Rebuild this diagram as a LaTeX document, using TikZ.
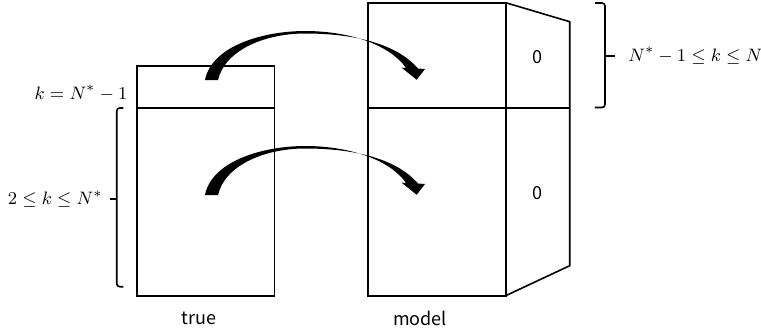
\documentclass[tikz,border=0pt]{standalone}
\usepackage{amsmath,amssymb}
\usepackage{fontspec}
\newfontfamily\jpfont{Noto Sans CJK JP}
\usepackage{tikz}
\usetikzlibrary{positioning,calc}

\begin{document}
\begin{tikzpicture}[
    x=0.5pt, y=-0.5pt,
    cell/.style={rectangle, draw, line width=0.8pt, inner sep=0pt, outer sep=0pt},
    lbl/.style={font=\jpfont\fontsize{9}{11}\selectfont},
    mth/.style={font=\fontsize{9.4}{11}\selectfont, inner sep=0pt},
    bracket/.style={line width=0.8pt, rounded corners=1.5pt}
]
\useasboundingbox (0,0) rectangle (761,333);

% true block
\node[cell, minimum width=68.8pt, minimum height=21.15pt] (truetop) at (205.5,86.85) {};
\node[cell, minimum width=68.8pt, minimum height=93.85pt] (truebot) at (205.5,201.85) {};

% model block with side face
\node[cell, minimum width=68.85pt, minimum height=52.65pt] (modeltop) at (436.85,55.35) {};
\node[cell, minimum width=68.85pt, minimum height=93.85pt] (modelbot) at (436.85,201.85) {};
\coordinate (sidetop) at (569.7,21.7);
\coordinate (sidemid) at (569.7,108);
\coordinate (sidebot) at (569.7,265.7);
\draw[line width=0.8pt] (modeltop.north east) -- (sidetop) -- (sidebot) -- (modelbot.south east);
\draw[line width=0.8pt] (modeltop.south east) -- (sidemid);
\node[lbl] (zerotop) at (537.7,57.3) {0};
\node[lbl] (zerobot) at (537.7,193.3) {0};

\node[lbl] (labeltrue) at (199,318) {true};
\node[lbl] (labelmodel) at (420,318) {model};

% curved arrows
\foreach \c in {truetop,truebot}
  \fill[shift={(\c.center)}] (-0.5,-6.85) .. controls (6.5,-41.85) and (59.5,-55.85) .. (99.5,-55.85)
    .. controls (144.5,-55.85) and (184.5,-41.85) .. (200.5,-18.95) -- (196.2,-19.15) -- (211.2,-7.05)
    -- (219.5,-17.85) -- (212.5,-18.35) .. controls (189.5,-44.85) and (144.5,-53.35) .. (99.5,-53.35)
    .. controls (59.5,-53.35) and (19.5,-36.85) .. (12.5,-6.85) -- cycle;

% brackets and ranges
\coordinate (lefttip) at (110,199);
\draw[bracket] (123.3,108) -- (116.7,108) -- (116.7,286.7) -- (123.3,286.7);
\draw[line width=0.8pt] (116.7,199) -- (lefttip);
\node[mth, left=3.5pt of lefttip] (rangelow) {$2\leq k\leq N^{*}$};
\node[mth, anchor=east] (rangeone) at (127.7,93.3) {$k=N^{*}-1$};
\coordinate (righttip) at (615,55.7);
\draw[bracket] (595,3) -- (605,3) -- (605,107.5) -- (595,107.5);
\draw[line width=0.8pt] (605,55.7) -- (righttip);
\node[mth, right=6.5pt of righttip] (rangehigh) {$N^{*}-1\leq k\leq N$};
\end{tikzpicture}
\end{document}
